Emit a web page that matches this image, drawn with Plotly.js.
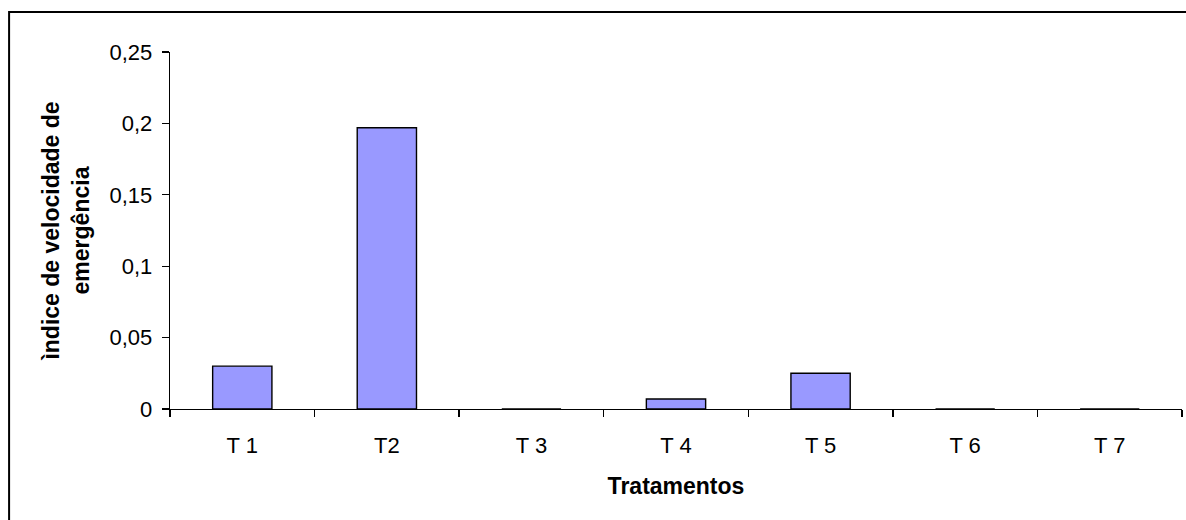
<!DOCTYPE html>
<html>
<head>
<meta charset="utf-8">
<script src="https://cdn.plot.ly/plotly-3.0.1.min.js"></script>
<style>html,body{margin:0;padding:0;background:#fff;}#chart{width:1186px;height:520px;}</style>
</head>
<body>
<div id="chart"></div>
<script>
var categories = ["T 1", "T2", "T 3", "T 4", "T 5", "T 6", "T 7"];
var values = [0.030, 0.197, 0, 0.007, 0.025, 0, 0];
var yTicks = [0, 0.05, 0.1, 0.15, 0.2, 0.25];

var trace = {
  type: "bar",
  x: categories,
  y: values,
  marker: {color: "#9999FF", line: {color: "#000000", width: 1.4}},
  hoverinfo: "x+y"
};

var layout = {
  width: 1186,
  height: 520,
  margin: {l: 170, r: 4, t: 52, b: 111},
  paper_bgcolor: "#ffffff",
  plot_bgcolor: "#ffffff",
  separators: ",.",
  font: {family: "Liberation Sans, Arial, sans-serif", size: 21, color: "#000"},
  bargap: 0.59,
  showlegend: false,
  xaxis: {
    type: "category",
    range: [-0.5, 6.5],
    showline: true, linecolor: "#000", linewidth: 1.3,
    ticks: "outside", tickson: "boundaries", ticklen: 7, tickcolor: "#000", tickwidth: 1.3,
    showgrid: false, zeroline: false,
    tickfont: {size: 22},
    ticklabelstandoff: 16,
    automargin: false,
    title: {text: "<b>Tratamentos</b>", font: {size: 23}, standoff: 21}
  },
  yaxis: {
    range: [0, 0.25],
    tickvals: yTicks,
    showline: true, linecolor: "#000", linewidth: 1.3,
    ticks: "outside", ticklen: 7, tickcolor: "#000", tickwidth: 1.3,
    showgrid: false, zeroline: false,
    tickfont: {size: 22},
    ticklabelstandoff: 5,
    automargin: false,
    title: {text: "<b>ìndice de velocidade de<br>emergência</b>", font: {size: 23}, standoff: 13}
  },
  shapes: [{
    type: "rect", xref: "paper", yref: "paper",
    x0: -0.159, x1: 1.02, y0: -0.4, y1: 1.112,
    line: {color: "#000", width: 2}, fillcolor: "rgba(0,0,0,0)", layer: "below"
  }]
};

Plotly.newPlot("chart", [trace], layout, {displayModeBar: false, staticPlot: true});
</script>
</body>
</html>
